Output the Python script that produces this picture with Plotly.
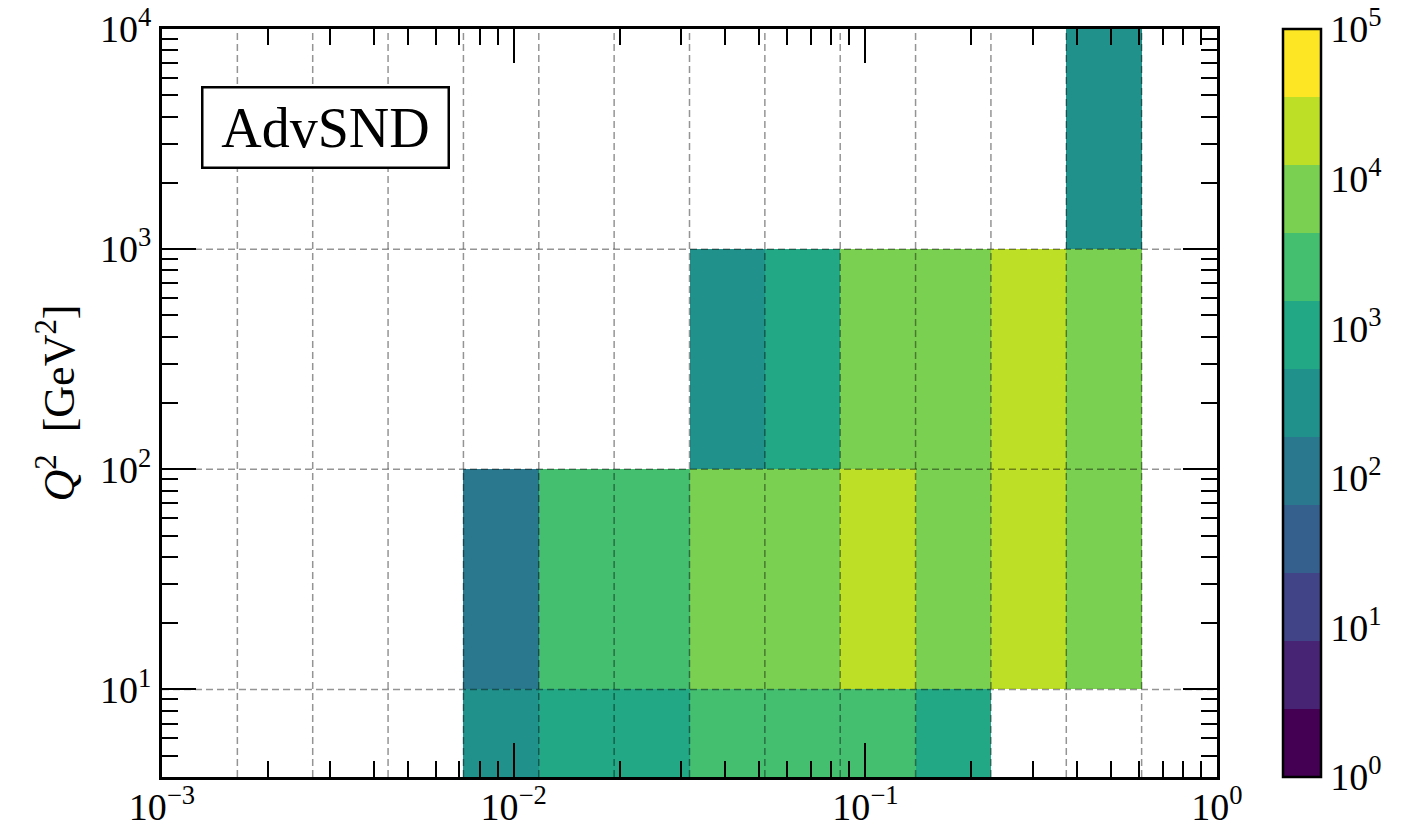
import numpy as np
import plotly.graph_objects as go

# ---------------- data ----------------
# 14 logarithmic bins in x between 1e-3 and 1
x_edges = np.logspace(-3, 0, 15)
# Q^2 bin edges [GeV^2]
q2_edges = [1, 10, 100, 1000, 10000]

# event counts per x bin, one list per Q^2 row (None = empty bin)
counts_q2_1_10 = [None, None, None, None, 350, 1000, 1000, 2500, 2500, 2500, 1000, None, None, None]
counts_q2_10_100 = [None, None, None, None, 120, 2500, 2500, 7000, 7000, 20000, 7000, 20000, 7000, None]
counts_q2_100_1000 = [None, None, None, None, None, None, None, 350, 1000, 7000, 7000, 20000, 7000, None]
counts_q2_1000_10000 = [None, None, None, None, None, None, None, None, None, None, None, None, 350, None]

x_tickvals = [1e-3, 1e-2, 1e-1, 1]
x_ticktext = ["10<sup>\u22123</sup>", "10<sup>\u22122</sup>", "10<sup>\u22121</sup>", "10<sup>0</sup>"]
y_tickvals = [10, 100, 1000, 10000]
y_ticktext = ["10<sup>1</sup>", "10<sup>2</sup>", "10<sup>3</sup>", "10<sup>4</sup>"]
cb_tickvals = [0, 1, 2, 3, 4, 5]
cb_ticktext = ["10<sup>0</sup>", "10<sup>1</sup>", "10<sup>2</sup>", "10<sup>3</sup>", "10<sup>4</sup>", "10<sup>5</sup>"]

# discrete viridis (11 levels)
viridis11 = ["#440154", "#482475", "#414487", "#355f8d", "#2a788e", "#21918c",
             "#22a884", "#44bf70", "#7ad151", "#bddf26", "#fde725"]

# ---------------- build ----------------
rows = [counts_q2_1_10, counts_q2_10_100, counts_q2_100_1000, counts_q2_1000_10000]
z = [[(np.log10(v) if v is not None else None) for v in r] for r in rows]

n = len(viridis11)
colorscale = []
for i, c in enumerate(viridis11):
    colorscale.append([i / n, c])
    colorscale.append([(i + 1) / n, c])

FONT = "Liberation Serif"
L, R, T, B = 162, 202, 29, 50
W, H = 1419, 827
pw = W - L - R
ph = H - T - B

fig = go.Figure()
fig.add_trace(go.Heatmap(
    x=list(x_edges), y=q2_edges, z=z,
    zmin=0, zmax=5, colorscale=colorscale,
    colorbar=dict(
        thickness=38, thicknessmode="pixels",
        len=1, lenmode="fraction",
        x=(1283 - L) / pw, xanchor="left", xpad=0,
        y=0.5, yanchor="middle", ypad=0,
        outlinewidth=2.5, outlinecolor="black",
        tickmode="array", tickvals=cb_tickvals, ticktext=cb_ticktext,
        ticks="",
        tickfont=dict(family=FONT, size=38, color="black"),
    ),
    hoverinfo="skip",
))

# dashed grid on top of the cells
grid = dict(color="rgba(0,0,0,0.42)", width=1.5, dash="7px,4px")
for xe in x_edges[1:-1]:
    fig.add_shape(type="line", x0=xe, x1=xe, y0=0, y1=1, xref="x", yref="paper",
                  line=grid, layer="above")
for ye in q2_edges[1:-1]:
    fig.add_shape(type="line", x0=0, x1=1, y0=ye, y1=ye, xref="paper", yref="y",
                  line=grid, layer="above")

minor_x = [m * 10.0 ** e for e in (-3, -2, -1) for m in range(2, 10)]
minor_y = [m * 10.0 ** e for e in (0, 1, 2, 3) for m in range(2, 10)]

axis_common = dict(
    ticks="inside", ticklen=34, tickwidth=2, tickcolor="black",
    showline=True, linewidth=3, linecolor="black", mirror="allticks",
    showgrid=False, zeroline=False,
    tickfont=dict(family=FONT, size=38, color="black"),
)

fig.update_xaxes(
    type="log", range=[-3, 0],
    tickmode="array", tickvals=x_tickvals, ticktext=x_ticktext,
    ticklabelstandoff=-6,
    minor=dict(ticks="inside", ticklen=16, tickwidth=1.5, tickcolor="black",
               tickmode="array", tickvals=minor_x, showgrid=False),
    **axis_common,
)
fig.update_yaxes(
    type="log", range=[np.log10(4), 4],
    tickmode="array", tickvals=y_tickvals, ticktext=y_ticktext,
    minor=dict(ticks="inside", ticklen=16, tickwidth=1.5, tickcolor="black",
               tickmode="array", tickvals=minor_y, showgrid=False),
    title=dict(text="<i>Q</i><sup>2</sup>\u00a0 [GeV<sup>2</sup>]",
               font=dict(family=FONT, size=44, color="black"), standoff=12),
    **axis_common,
)

fig.add_annotation(
    text="AdvSND", xref="paper", yref="paper",
    x=(201 - L) / pw, y=(H - B - 86) / ph, xanchor="left", yanchor="top",
    showarrow=False, font=dict(family=FONT, size=56, color="black"),
    bgcolor="white", bordercolor="black", borderwidth=2.5, borderpad=4,
    width=236, height=70,
)

fig.update_layout(
    width=W, height=H,
    margin=dict(l=L, r=R, t=T, b=B, autoexpand=False),
    paper_bgcolor="white", plot_bgcolor="white",
    showlegend=False,
)

fig.write_html("out.html")
